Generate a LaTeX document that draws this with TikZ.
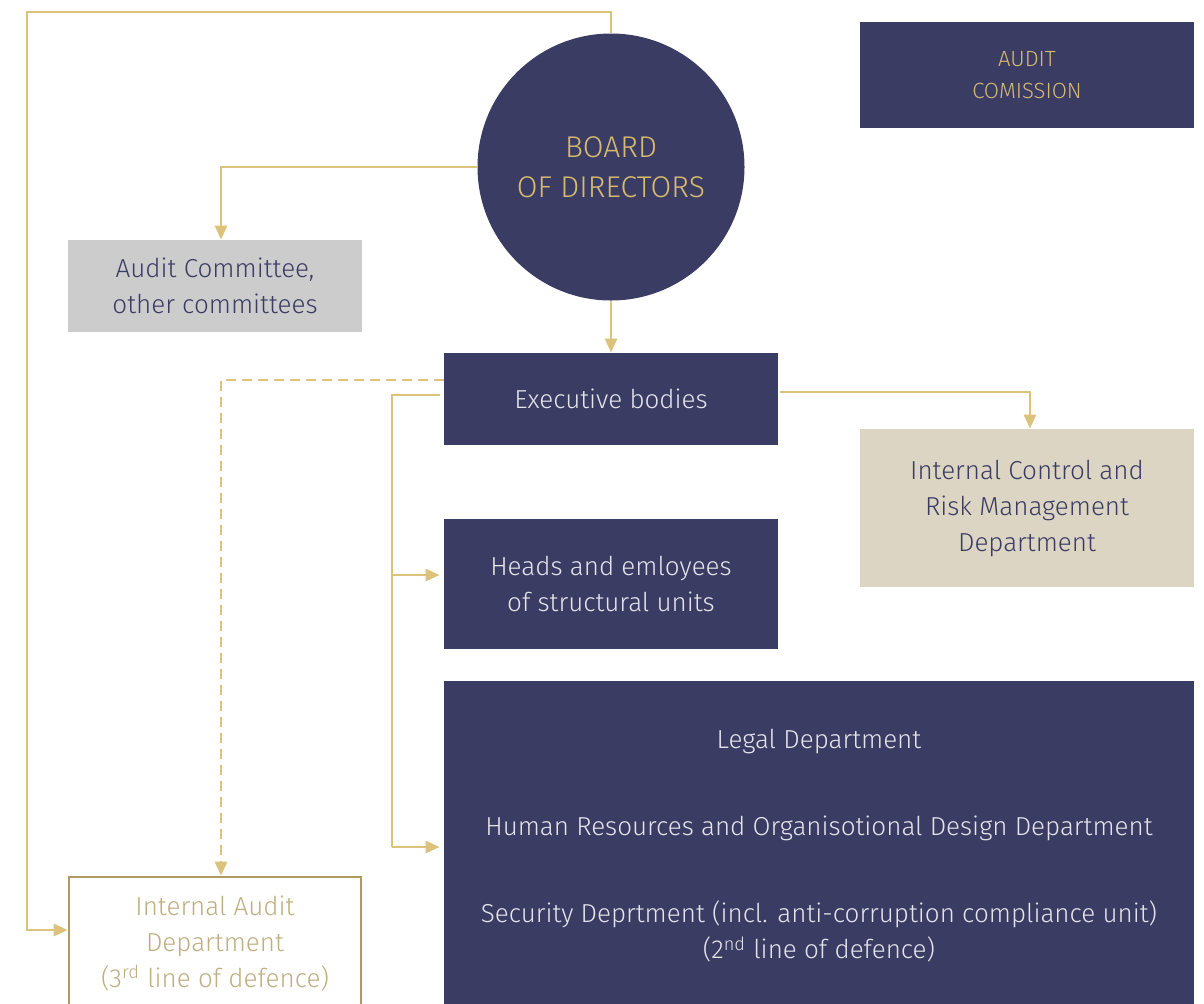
\documentclass[tikz,border=0pt]{standalone}
\usepackage{fontspec}
\setmainfont{Fira Sans}[UprightFont=* Light]
\usetikzlibrary{arrows.meta}
\definecolor{navy}{HTML}{3B3C63}
\definecolor{gold}{HTML}{DCC27A}
\definecolor{goldtext}{HTML}{D6BA70}
\definecolor{greybox}{HTML}{CCCCCC}
\definecolor{sand}{HTML}{DDD5C3}
\definecolor{paletext}{HTML}{E4E4EC}
\definecolor{iatext}{HTML}{BFAE80}
\definecolor{iaframe}{HTML}{B09A62}

\begin{document}
\begin{tikzpicture}[x=0.5pt,y=-0.5pt,
    link/.style={gold,line width=1.4pt},
    tip/.style={-{Triangle[length=7pt,width=6pt]}},
    unit/.style={fill=navy,text=paletext,align=center,inner sep=0pt,
        font=\fontsize{13}{18}\selectfont}]
    \useasboundingbox (0,0) rectangle (1204,1003);
    \clip (0,0) rectangle (1204,1003);

    % Board and commission
    \node[circle,fill=navy,minimum size=133.5pt,inner sep=0pt,text=goldtext,align=center,
        font=\fontsize{15}{20}\selectfont] (board) at (611,167) {BOARD\\OF DIRECTORS};
    \node[unit,text=goldtext,minimum width=167pt,minimum height=53pt,
        font=\fontsize{11}{16}\selectfont] (commission) at (1027,75) {AUDIT\\COMISSION};

    % Committees and executive level
    \node[fill=greybox,text=navy,align=center,minimum width=147pt,minimum height=46pt,
        font=\fontsize{13}{18}\selectfont] (committee) at (215,286) {Audit Committee,\\other committees};
    \node[unit,minimum width=167pt,minimum height=46pt] (exec) at (611,399) {Executive bodies};
    \node[unit,fill=sand,text=navy,minimum width=167pt,minimum height=79pt] (icrm) at (1027,508)
        {Internal Control and\\Risk Management\\Department};
    \node[unit,minimum width=167pt,minimum height=65pt] (heads) at (611,584)
        {Heads and emloyees\\of structural units};

    % Departments
    \node[unit,minimum width=375pt,minimum height=165pt] (depts) at (819,846)
        {Legal Department\\[25.5pt]
         Human Resources and Organisotional Design Department\\[25.5pt]
         Security Deprtment (incl. anti-corruption compliance unit)\\
         (2\textsuperscript{nd} line of defence)};
    \node[draw=iaframe,line width=1.3pt,text=iatext,align=center,minimum width=146pt,
        minimum height=66pt,font=\fontsize{13}{18}\selectfont] (ia) at (215,943)
        {Internal Audit\\Department\\(3\textsuperscript{rd} line of defence)};

    % Connectors
    \coordinate (topleft) at (27,12);
    \coordinate (lp) at (27,930);
    \coordinate (spine) at (392,847);
    \draw[link,tip] (board.north) |- (topleft) -- (lp) -- (lp -| ia.west);
    \draw[link,tip] (board.west) -| ([xshift=3pt]committee.north);
    \draw[link,tip] (board.south) -- (exec.north);
    \draw[link,tip] ([yshift=3.5pt,xshift=1pt]exec.east) -| ([xshift=1.5pt]icrm.north);
    \draw[link,tip,dash pattern=on 5pt off 3pt] ([yshift=9.5pt]exec.west) -| ([xshift=3pt]ia.north);
    \draw[link] ([yshift=2pt,xshift=-2pt]exec.west) -| (spine);
    \draw[link,tip] (spine |- 0,575) -- ([yshift=4.5pt,xshift=-2pt]heads.west);
    \draw[link,tip] (spine) -- ([xshift=-2pt]spine -| depts.west);
\end{tikzpicture}
\end{document}
